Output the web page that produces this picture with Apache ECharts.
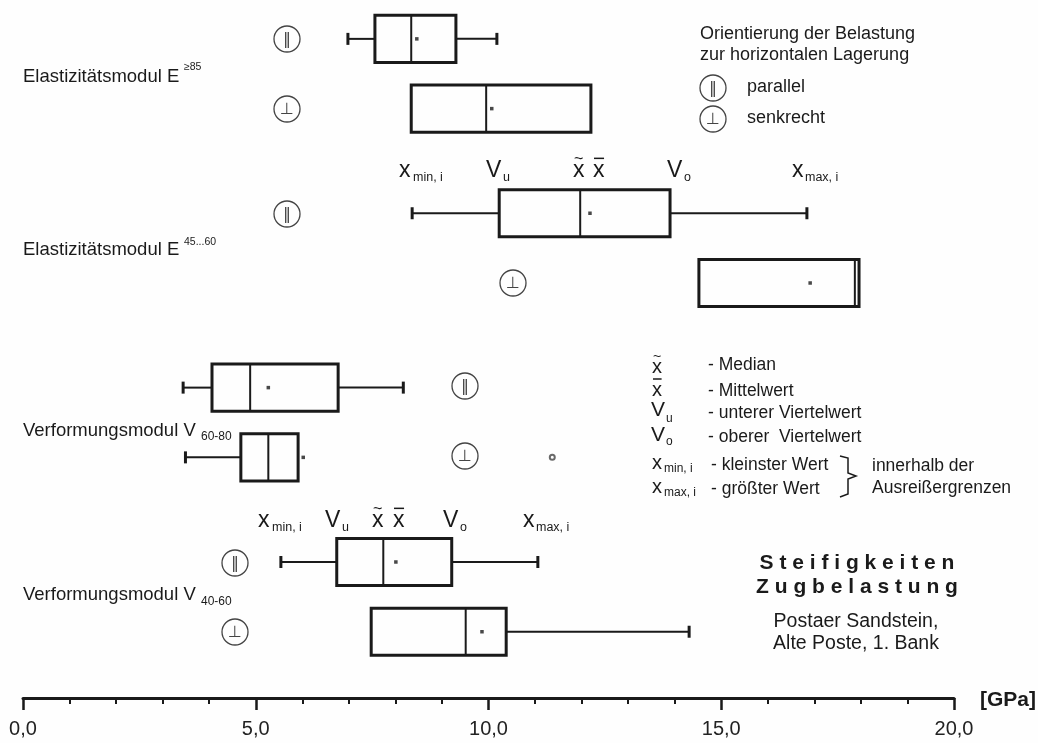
<!DOCTYPE html>
<html>
<head>
<meta charset="utf-8">
<script src="https://cdn.jsdelivr.net/npm/echarts@6/dist/echarts.min.js"></script>
<style>
html,body{margin:0;padding:0;background:#fefefe;}
#chart{width:1038px;height:743px;}
</style>
</head>
<body>
<div id="chart"></div>
<script>
// ---------- data ----------
const categories = ['E≥85 ∥', 'E≥85 ⊥', 'E45…60 ∥', 'E45…60 ⊥', 'V60-80 ∥', 'V60-80 ⊥', 'V40-60 ∥', 'V40-60 ⊥'];
const minVals    = [6.98, 8.34,  8.36, 14.52, 3.44, 3.49, 5.54, 7.48];
const q1Vals     = [7.56, 8.34, 10.23, 14.52, 4.06, 4.68, 6.74, 7.48];
const medianVals = [8.34, 9.95, 11.97, 17.87, 4.88, 5.27, 7.74, 9.51];
const q3Vals     = [9.30, 12.20, 13.90, 17.96, 6.77, 5.91, 9.21, 10.38];
const maxVals    = [10.18, 12.20, 16.84, 17.96, 8.17, 5.91, 11.06, 14.31];
const meanVals   = [8.46, 10.07, 12.18, 16.91, 5.27, 6.02, 8.01, 9.86];
const outlierRows = [5];
const outlierVals = [11.37];
const xTickLabels = ['0,0', '5,0', '10,0', '15,0', '20,0'];

// ---------- layout ----------
const rowSlots = [0, 4, 10, 14, 20, 24, 30, 34];
const FONT = '"Liberation Sans", Arial, sans-serif';
const INK = '#1a1a1a';

const boxData = categories.map((c, i) => [rowSlots[i], minVals[i], q1Vals[i], medianVals[i], q3Vals[i], maxVals[i]]);
const meanData = categories.map((c, i) => [meanVals[i], rowSlots[i]]);
const outlierData = outlierRows.map((r, k) => [outlierVals[k], rowSlots[r]]);

function renderBox(params, api) {
  const slot = api.value(0);
  const vmin = api.value(1), q1 = api.value(2), med = api.value(3), q3 = api.value(4), vmax = api.value(5);
  const X = v => api.coord([v, slot])[0];
  const cy = api.coord([q1, slot])[1];
  const bh = api.size([0, 2.7])[1];
  const cap = 6;
  const ls = w => ({ stroke: INK, lineWidth: w, fill: 'none' });
  const ch = [];
  if (vmin < q1) {
    ch.push({ type: 'line', shape: { x1: X(vmin), y1: cy, x2: X(q1), y2: cy }, style: ls(2) });
    ch.push({ type: 'line', shape: { x1: X(vmin), y1: cy - cap, x2: X(vmin), y2: cy + cap }, style: ls(3) });
  }
  if (vmax > q3) {
    ch.push({ type: 'line', shape: { x1: X(q3), y1: cy, x2: X(vmax), y2: cy }, style: ls(2) });
    ch.push({ type: 'line', shape: { x1: X(vmax), y1: cy - cap, x2: X(vmax), y2: cy + cap }, style: ls(3) });
  }
  ch.push({ type: 'rect', shape: { x: X(q1), y: cy - bh / 2, width: X(q3) - X(q1), height: bh }, style: ls(3) });
  ch.push({ type: 'line', shape: { x1: X(med), y1: cy - bh / 2, x2: X(med), y2: cy + bh / 2 }, style: ls(2) });
  return { type: 'group', children: ch };
}

function T(x, y, text, size, extra) {
  return { type: 'text', x: x, y: y, silent: true, z: 10,
    style: Object.assign({ text: text, fontSize: size, fontFamily: FONT, fill: INK, align: 'left', verticalAlign: 'middle' }, extra || {}) };
}
function sym(cx, cy, kind) {
  return [
    { type: 'circle', shape: { cx: cx, cy: cy, r: 13 }, style: { fill: 'none', stroke: '#444', lineWidth: 1.3 }, z: 10 },
    T(cx, cy + 1, kind === 'par' ? '‖' : '⊥', 16, { align: 'center', fontFamily: '"DejaVu Sans", sans-serif', fill: '#444' })
  ];
}
// x with tilde / bar
function xTilde(x, cy, size) {
  return [T(x, cy, 'x', size), T(x + size * 0.25, cy - size * 0.5, '~', size * 0.7, { align: 'center' })];
}
function xBar(x, cy, size) {
  return [T(x, cy, 'x', size),
    { type: 'line', shape: { x1: x + 1, y1: cy - size * 0.55, x2: x + size * 0.48, y2: cy - size * 0.55 }, style: { stroke: INK, lineWidth: 1.5 }, z: 10 }];
}
function annot(cy, sy, p) {
  const s = 23, ss = 12.5;
  return [
    T(p.xmin, cy, 'x', s), T(p.xmin + 14, sy, 'min, i', ss),
    T(p.vu, cy, 'V', s), T(p.vu + 17, sy, 'u', ss),
    ...xTilde(p.med, cy, s), ...xBar(p.mean, cy, s),
    T(p.vo, cy, 'V', s), T(p.vo + 17, sy, 'o', ss),
    T(p.xmax, cy, 'x', s), T(p.xmax + 13, sy, 'max, i', ss)
  ];
}

const graphics = [
  T(23, 77, 'Elastizitätsmodul E', 18.5), T(184, 67, '≥85', 10.5),
  T(23, 250, 'Elastizitätsmodul E', 18.5), T(184, 242, '45...60', 10.5),
  T(23, 431, 'Verformungsmodul V', 18.5), T(201, 437, '60-80', 12),
  T(23, 595, 'Verformungsmodul V', 18.5), T(201, 602, '40-60', 12),

  ...sym(287, 39, 'par'), ...sym(287, 109, 'perp'),
  ...sym(287, 214, 'par'), ...sym(513, 283, 'perp'),
  ...sym(465, 386, 'par'), ...sym(465, 456, 'perp'),
  ...sym(235, 563, 'par'), ...sym(235, 632, 'perp'),

  T(700, 34, 'Orientierung der Belastung', 18),
  T(700, 55, 'zur horizontalen Lagerung', 18),
  ...sym(713, 88, 'par'), T(747, 87, 'parallel', 18),
  ...sym(713, 119, 'perp'), T(747, 118, 'senkrecht', 18),

  ...annot(171, 178, { xmin: 399, vu: 486, med: 573, mean: 593, vo: 667, xmax: 792 }),
  ...annot(521, 528, { xmin: 258, vu: 325, med: 372, mean: 393, vo: 443, xmax: 523 }),

  ...xTilde(652, 367, 20), T(708, 365, '- Median', 17.5),
  ...xBar(652, 390, 20), T(708, 391, '- Mittelwert', 17.5),
  T(651, 410, 'V', 21), T(666, 419, 'u', 12), T(708, 413, '- unterer Viertelwert', 17.5),
  T(651, 435, 'V', 21), T(666, 442, 'o', 12), T(708, 437, '- oberer  Viertelwert', 17.5),
  T(652, 463, 'x', 20), T(664, 469, 'min, i', 12), T(711, 465, '- kleinster Wert', 17.5),
  T(652, 487, 'x', 20), T(664, 493, 'max, i', 12), T(711, 489, '- größter Wert', 17.5),
  { type: 'polyline', z: 10, shape: { points: [[840, 456], [848, 458], [848, 473], [856, 476], [848, 479], [848, 494], [840, 497]] },
    style: { stroke: INK, lineWidth: 1.5, fill: 'none' } },
  T(872, 466, 'innerhalb der', 17.5),
  T(872, 488, 'Ausreißergrenzen', 17.5),

  T(857, 563, 'S t e i f i g k e i t e n', 21, { align: 'center', fontWeight: 'bold' }),
  T(857, 587, 'Z u g b e l a s t u n g', 21, { align: 'center', fontWeight: 'bold' }),
  T(856, 622, 'Postaer Sandstein,', 19.5, { align: 'center' }),
  T(856, 644, 'Alte Poste, 1. Bank', 19.5, { align: 'center' }),

  T(980, 700, '[GPa]', 21, { fontWeight: 'bold' })
];

const chart = echarts.init(document.getElementById('chart'), null, { renderer: 'canvas' });
chart.setOption({
  animation: false,
  backgroundColor: '#fefefe',
  grid: { left: 23, right: 84, top: 4, height: 694 },
  xAxis: {
    type: 'value', min: 0, max: 20, interval: 5,
    splitLine: { show: false },
    axisLine: { show: true, onZero: false, lineStyle: { color: INK, width: 3 } },
    axisTick: { show: true, length: 12, lineStyle: { color: INK, width: 2.5 } },
    minorTick: { show: true, splitNumber: 5, length: 6, lineStyle: { color: INK, width: 2 } },
    minorSplitLine: { show: false },
    axisLabel: { margin: 21, fontSize: 20, fontFamily: FONT, color: '#222',
      formatter: v => xTickLabels[Math.round(v / 5)] }
  },
  yAxis: { type: 'value', inverse: true, min: -2, max: 37.8, show: false },
  graphic: graphics,
  series: [
    { type: 'custom', name: 'box', renderItem: renderBox, data: boxData,
      encode: { x: [1, 2, 3, 4, 5], y: 0 }, z: 2 },
    { type: 'scatter', name: 'Mittelwert', data: meanData, symbol: 'rect', symbolSize: 3.5,
      itemStyle: { color: INK }, z: 3 },
    { type: 'scatter', name: 'Ausreißer', data: outlierData, symbol: 'emptyCircle', symbolSize: 5,
      itemStyle: { color: '#444', borderWidth: 1 }, z: 3 }
  ]
});
</script>
</body>
</html>
